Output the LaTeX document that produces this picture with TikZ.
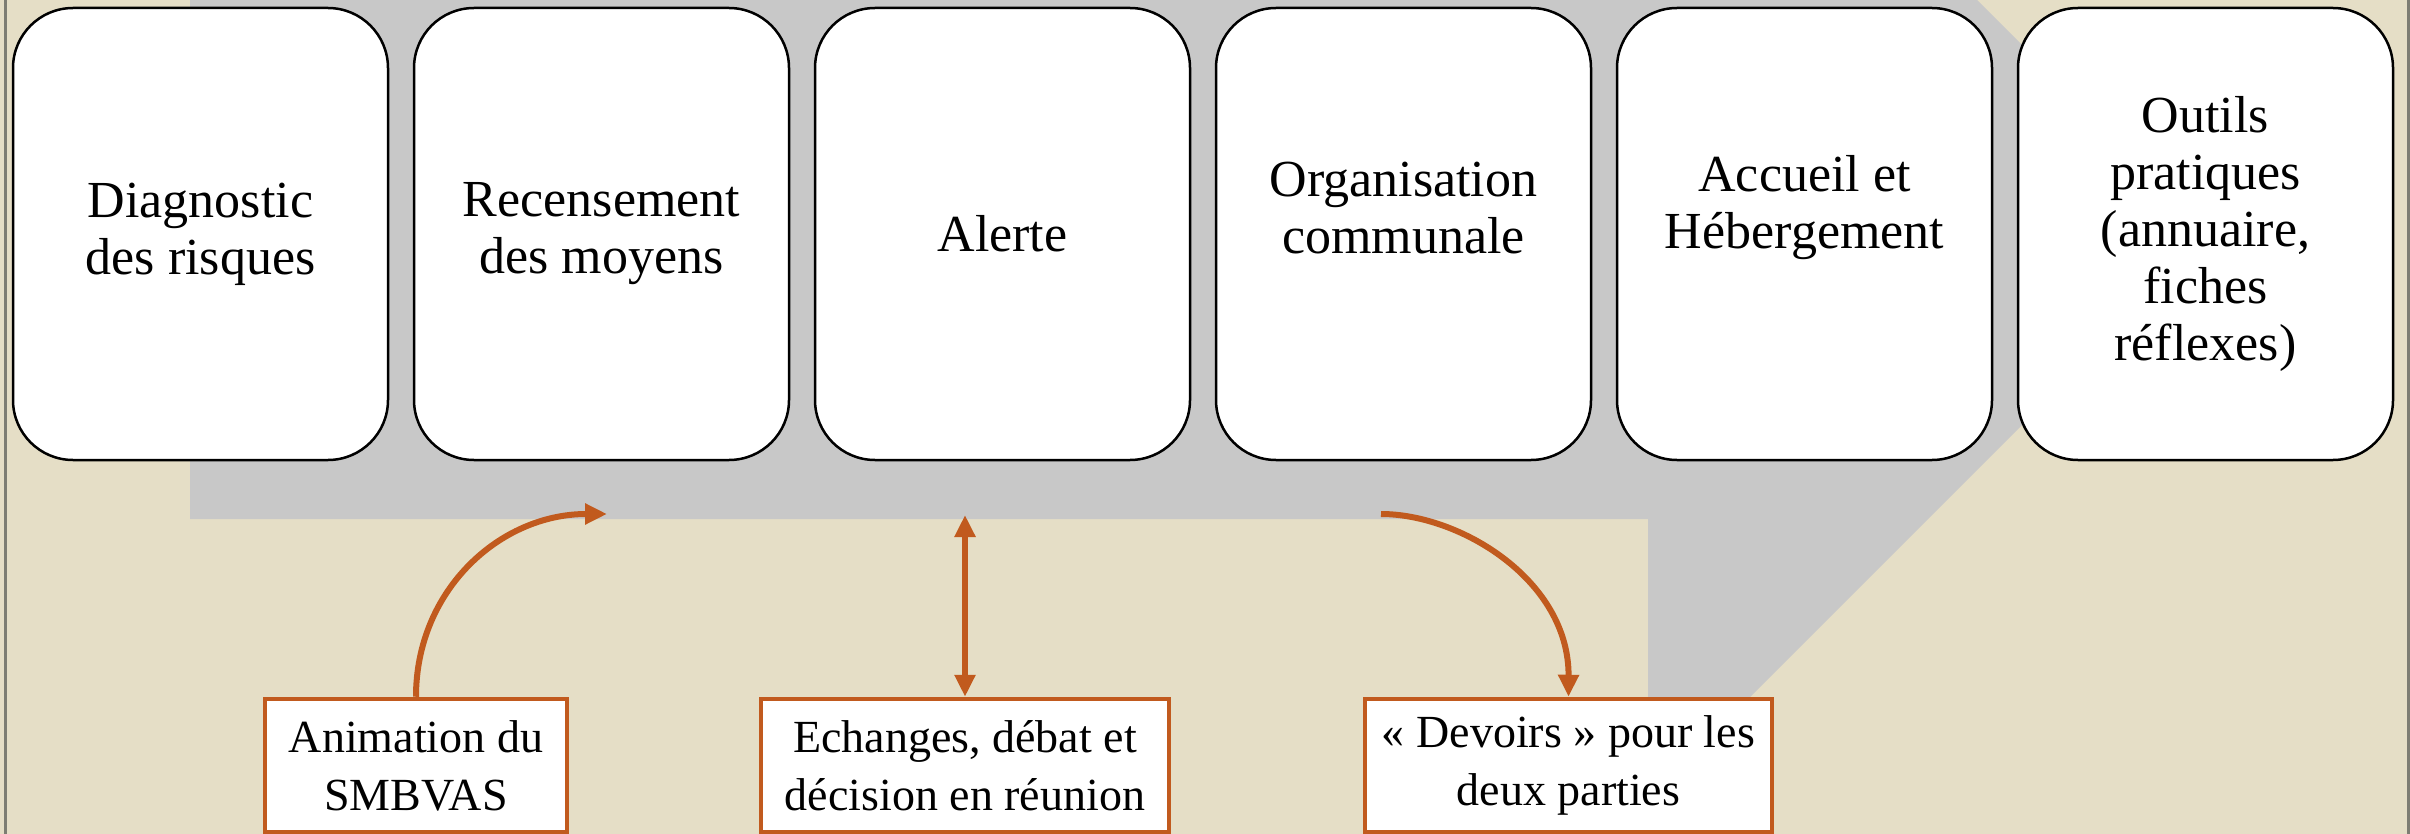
\documentclass[tikz,border=0pt]{standalone}
\usepackage{fontspec}
\setmainfont{Liberation Serif}
\usetikzlibrary{arrows.meta}
\definecolor{beige}{RGB}{229,222,198}
\definecolor{grayband}{RGB}{200,200,200}
\definecolor{rust}{RGB}{193,90,30}
\definecolor{edgegray}{RGB}{125,125,115}
\tikzset{
  bigbox/.style={draw=black, line width=2.5pt, fill=white, rounded corners=60pt,
    minimum width=375pt, minimum height=452pt, align=center, inner sep=0pt,
    font=\fontsize{52}{57}\selectfont},
  bigtext/.style={align=center, inner sep=0pt, font=\fontsize{52}{57}\selectfont},
  smallbox/.style={draw=rust, line width=4.5pt, fill=white, minimum height=133pt,
    align=center, inner sep=0pt, font=\fontsize{46}{58}\selectfont},
  conn/.style={draw=rust, line width=6pt, -{Triangle[length=22pt,width=20pt]}},
  conn2/.style={draw=rust, line width=6pt, {Triangle[length=22pt,width=20pt]}-{Triangle[length=22pt,width=20pt]}}
}
\begin{document}
\begin{tikzpicture}[x=1pt,y=-1pt]
\useasboundingbox (0,0) rectangle (2410,834);
\fill[beige] (0,0) rectangle (2410,834);
\draw[edgegray, line width=3pt] (5,0) -- (5,834);
\draw[edgegray, line width=3pt] (2408,0) -- (2408,834);
% grey band (large arrow)
\fill[grayband] (190,0) -- (1977,0) -- (2212,235) -- (1648,799) -- (1648,519) -- (190,519) -- cycle;
% top boxes
\node[bigbox] (b1) at (200.5,234) {Diagnostic\\des risques};
\node[bigbox] (b2) at (601.5,234) {Recensement\\des moyens};
\node[bigbox] (b3) at (1002.5,234) {Alerte};
\node[bigbox] (b4) at (1403.5,234) {};
\node[bigtext] (t4) at ([yshift=26pt]b4.center) {Organisation\\communale};
\node[bigbox] (b5) at (1804.5,234) {};
\node[bigtext] (t5) at ([yshift=26pt]b5.center) {Accueil et\\Hébergement};
\node[bigbox] (b6) at (2205.5,234) {Outils\\pratiques\\(annuaire,\\fiches\\réflexes)};
% bottom boxes
\node[smallbox, minimum width=302pt] (a1) at (416,765.5) {Animation du\\SMBVAS};
\node[smallbox, minimum width=408pt] (a2) at (965,765.5) {Echanges, débat et\\décision en réunion};
\node[smallbox, minimum width=407pt] (a3) at (1568.5,765.5) {« Devoirs » pour les\\deux parties};
% connectors
\coordinate (e1) at (607,514);
\coordinate (e2) at (965,515);
\coordinate (s3) at (1381,514);
\draw[conn] (a1.north) .. controls (416,590) and (500,514) .. (e1);
\draw[conn2] (a2.north) -- (e2);
\draw[conn] (s3) .. controls (1460,514) and (1569,580) .. (a3.north);
\end{tikzpicture}
\end{document}
